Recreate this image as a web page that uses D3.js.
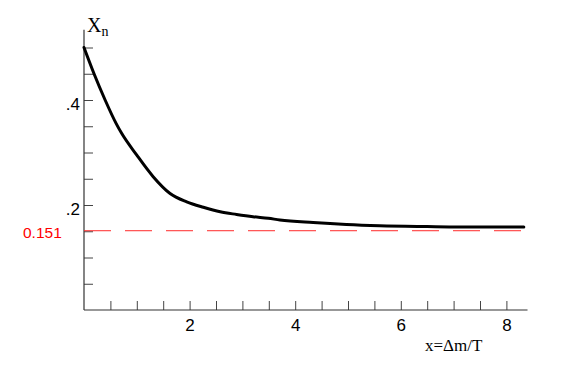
<!DOCTYPE html>
<html><head><meta charset="utf-8">
<script src="https://cdn.jsdelivr.net/npm/d3@7"></script>
<style>body{margin:0;background:#fff}svg{display:block}</style>
</head><body>
<script>
// Data
const xs = [0, 0.19, 0.4, 0.61, 0.71, 1.0, 1.31, 1.63, 1.945, 2.26, 2.58, 2.89, 3.2, 3.49, 3.71, 4.34, 4.97, 5.6, 6.5, 7.5, 8.33];
const ys = [0.5, 0.45, 0.4, 0.355, 0.337, 0.295, 0.254, 0.222, 0.206, 0.1956, 0.187, 0.182, 0.1777, 0.1747, 0.1715, 0.1665, 0.1628, 0.1605, 0.159, 0.158, 0.158];
const asymptote = 0.151;
const asymptoteLabel = "0.151";
const xTickValues = [0.5,1,1.5,2,2.5,3,3.5,4,4.5,5,5.5,6,6.5,7,7.5,8];
const xTickLabels = [2, 4, 6, 8];
const yTickValues = [0.05,0.1,0.15,0.2,0.25,0.3,0.35,0.4,0.45,0.5];
const yTickLabels = [{v:0.2, t:".2"}, {v:0.4, t:".4"}];

const W = 566, H = 377;
const svg = d3.select("body").append("svg").attr("width", W).attr("height", H);
const x = d3.scaleLinear().domain([0, 8]).range([84, 506.4]);
const y = d3.scaleLinear().domain([0, 0.5]).range([310, 47.5]);
const axisColor = "#333";
const sans = "'Liberation Sans', Arial, sans-serif";
const serif = "'Liberation Serif', 'Times New Roman', serif";

// x axis
const xAxis = d3.axisBottom(x).tickValues(xTickValues).tickSizeInner(-9).tickSizeOuter(0)
  .tickFormat(d => xTickLabels.includes(d) ? String(d) : "").tickPadding(9);
const gx = svg.append("g").attr("transform", `translate(0,${y(0)})`).call(xAxis);
gx.select(".domain").remove();
gx.selectAll(".tick line").attr("stroke", "#444");
gx.selectAll("text").attr("font-family", sans).attr("font-size", 17).attr("fill", "#000");
svg.append("line").attr("x1", x(0)).attr("x2", x(8.4)).attr("y1", y(0)).attr("y2", y(0))
  .attr("stroke", axisColor).attr("stroke-width", 1.2);

// y axis
const yAxis = d3.axisLeft(y).tickValues(yTickValues).tickSizeInner(-9).tickSizeOuter(0).tickFormat("");
const gy = svg.append("g").attr("transform", `translate(${x(0)},0)`).call(yAxis);
gy.select(".domain").remove();
gy.selectAll(".tick line").attr("stroke", "#444");
svg.append("line").attr("x1", x(0)).attr("x2", x(0)).attr("y1", y(0)).attr("y2", y(0.534))
  .attr("stroke", axisColor).attr("stroke-width", 1.2);
svg.selectAll(".ylab").data(yTickLabels).enter().append("text")
  .attr("x", x(0) - 4).attr("y", d => y(d.v) + 9.5)
  .attr("text-anchor", "end").attr("font-family", sans)
  .attr("font-size", 17).text(d => d.t);

// dashed asymptote
svg.append("line").attr("x1", x(0)).attr("x2", x(8.4)).attr("y1", y(asymptote)).attr("y2", y(asymptote))
  .attr("stroke", "#ff2a2a").attr("stroke-width", 1).attr("stroke-dasharray", "27,14");
svg.append("text").attr("x", 23).attr("y", y(asymptote) + 7)
  .attr("font-family", sans).attr("font-size", 15.5)
  .attr("fill", "#ff0000").text(asymptoteLabel);

// curve
const pts = xs.map((v, i) => [v, ys[i]]);
svg.append("path").datum(pts)
  .attr("d", d3.line().x(d => x(d[0])).y(d => y(d[1])).curve(d3.curveMonotoneX))
  .attr("fill", "none").attr("stroke", "#000").attr("stroke-width", 3).attr("stroke-linecap", "round");

// axis titles
const tX = svg.append("text").attr("x", 87).attr("y", 32)
  .attr("font-family", serif).attr("font-size", 20);
tX.append("tspan").text("X");
tX.append("tspan").attr("font-size", 14).attr("dy", 4).text("n");
svg.append("text").attr("x", 425).attr("y", 351)
  .attr("font-family", serif).attr("font-size", 17)
  .text("x=Δm/T");
</script>
</body></html>
